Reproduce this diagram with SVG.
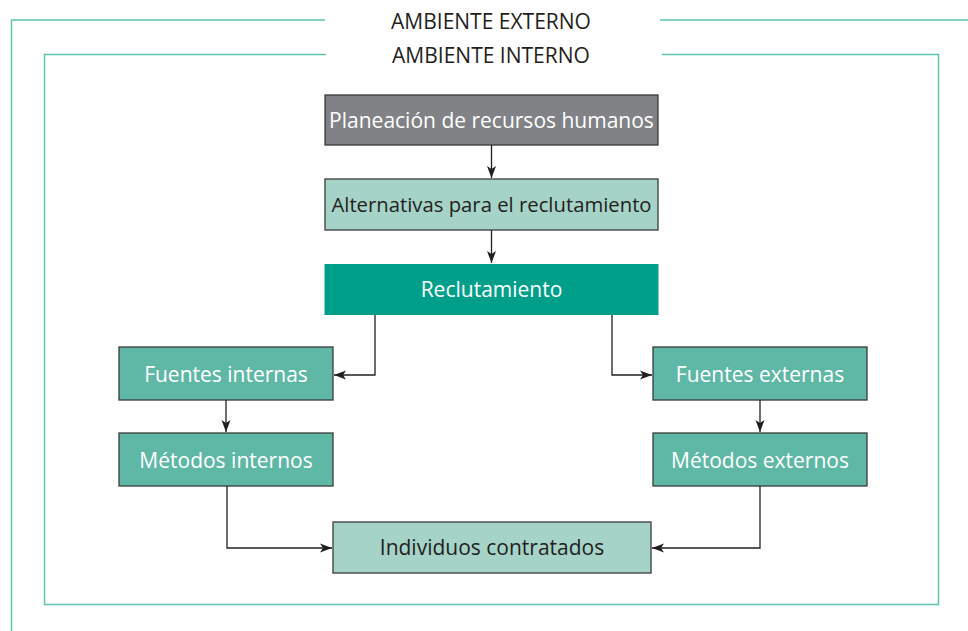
<svg xmlns="http://www.w3.org/2000/svg" width="968" height="631" viewBox="0 0 968 631">
<defs>
<style>
.env{fill:none;stroke:#5ec4ae;stroke-width:1.5}
.box{stroke:#3a3a3a;stroke-width:1.3}
.t{font-family:"Open Sans","Noto Sans","Liberation Sans",sans-serif;font-size:21px;text-anchor:middle}
.w{fill:#ffffff}
.d{fill:#231f20}
.c{fill:none;stroke:#231f20;stroke-width:1.3}
</style>
<marker id="arr" viewBox="-13 -6 14 12" refX="0" refY="0" markerWidth="14" markerHeight="12" markerUnits="userSpaceOnUse" orient="auto">
<path d="M0,0 L-12,-4.5 L-9,0 L-12,4.5 z" fill="#231f20"/>
</marker>
</defs>
<rect width="968" height="631" fill="#ffffff"/>
<g id="ambiente-externo">
<path class="env" d="M325,20 H11.5 V631 M660,20 H968"/>
<text class="t d" x="491" y="29">AMBIENTE EXTERNO</text>
</g>
<g id="ambiente-interno">
<path class="env" d="M326,54.5 H44.5 V604.5 H938.5 V54.5 H662"/>
<text class="t d" x="491" y="63">AMBIENTE INTERNO</text>
</g>
<g id="planeacion">
<rect class="box" x="325" y="95" width="333" height="50" fill="#808285"/>
<text class="t w" x="491.5" y="127.5">Planeación de recursos humanos</text>
</g>
<g id="alternativas">
<rect class="box" x="325" y="179" width="333" height="51" fill="#a5d3c8"/>
<text class="t d" x="491.5" y="212" style="font-size:20.3px">Alternativas para el reclutamiento</text>
</g>
<g id="reclutamiento">
<rect x="324.5" y="264" width="334" height="51" fill="#009f8a"/>
<text class="t w" x="491.5" y="297">Reclutamiento</text>
</g>
<g id="fuentes-internas">
<rect class="box" x="119" y="347" width="214" height="53" fill="#5fb7a5"/>
<text class="t w" x="226" y="381.5">Fuentes internas</text>
</g>
<g id="metodos-internos">
<rect class="box" x="119" y="433" width="214" height="53" fill="#5fb7a5"/>
<text class="t w" x="226" y="467.5">Métodos internos</text>
</g>
<g id="fuentes-externas">
<rect class="box" x="653" y="347" width="214" height="53" fill="#5fb7a5"/>
<text class="t w" x="760" y="381.5">Fuentes externas</text>
</g>
<g id="metodos-externos">
<rect class="box" x="653" y="433" width="214" height="53" fill="#5fb7a5"/>
<text class="t w" x="760" y="467.5">Métodos externos</text>
</g>
<g id="individuos">
<rect class="box" x="333" y="522" width="318" height="51" fill="#a5d3c8"/>
<text class="t d" x="492" y="554.5">Individuos contratados</text>
</g>
<g id="connectors">
<path class="c" d="M491.5,145 V178" marker-end="url(#arr)"/>
<path class="c" d="M491.5,230 V263" marker-end="url(#arr)"/>
<path class="c" d="M375,315 V375 H334" marker-end="url(#arr)"/>
<path class="c" d="M612,315 V375 H652" marker-end="url(#arr)"/>
<path class="c" d="M226,400 V432" marker-end="url(#arr)"/>
<path class="c" d="M760,400 V432" marker-end="url(#arr)"/>
<path class="c" d="M227,486 V548 H332" marker-end="url(#arr)"/>
<path class="c" d="M760,486 V548 H652" marker-end="url(#arr)"/>
</g>
</svg>
